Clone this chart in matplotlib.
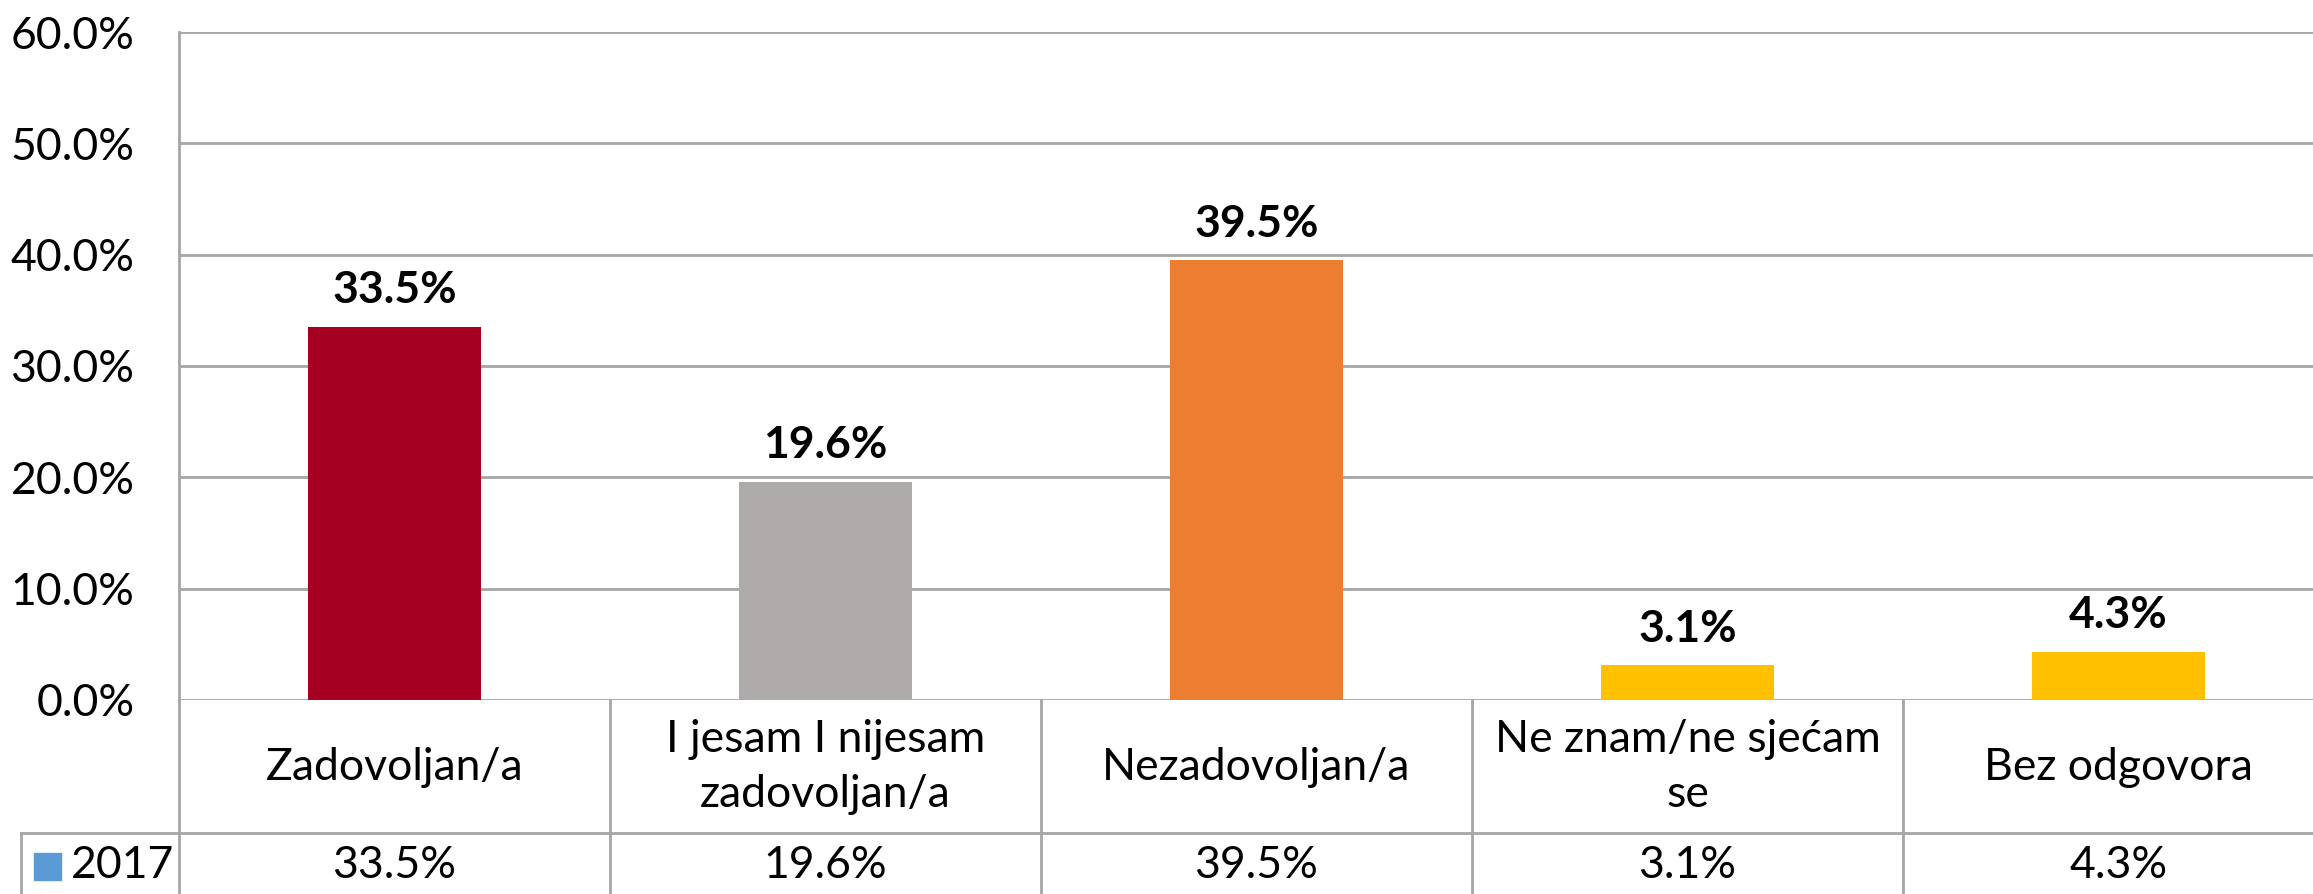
import matplotlib
matplotlib.use('Agg')
import matplotlib.pyplot as plt
import matplotlib.transforms as mtransforms
from matplotlib.lines import Line2D
from matplotlib.patches import Rectangle

plt.rcParams['font.family'] = ['Lato', 'DejaVu Sans']

# data
categories = ['Zadovoljan/a', 'I jesam I nijesam\nzadovoljan/a', 'Nezadovoljan/a',
              'Ne znam/ne sjećam\nse', 'Bez odgovora']
values = [33.5, 19.6, 39.5, 3.1, 4.3]
bar_colors = ['#A50021', '#AFABAB', '#ED7D31', '#FFC000', '#FFC000']
series_name = '2017'
yticks = [0, 10, 20, 30, 40, 50, 60]

W, H = 2313, 894
fig = plt.figure(figsize=(W / 100, H / 100), dpi=100)

# plot area in pixels: left 179, top 32, zero line 700, 5 columns of ~431 px
left, top, zero = 179, 32, 700
colw = 431
ax = fig.add_axes([left / W, (H - zero) / H, 5 * colw / W, (zero - top) / H])

fs = 32
grid_c = '#A6A6A6'
x = list(range(len(values)))
ax.bar(x, values, width=0.4, color=bar_colors, zorder=3)
ax.set_xlim(-0.5, 4.5)
ax.set_ylim(0, 60)
ax.set_yticks(yticks)
ax.set_yticklabels([f'{t:.1f}%' for t in yticks])
ax.tick_params(axis='y', length=0, pad=32, labelsize=fs)
ax.set_xticks([])
for t in yticks:
    ax.axhline(t, color=grid_c, lw=2, zorder=1)
for s in ['top', 'right', 'bottom']:
    ax.spines[s].set_visible(False)
ax.spines['left'].set_color(grid_c)
ax.spines['left'].set_linewidth(2)

for xi, v in zip(x, values):
    ax.annotate(f'{v:.1f}%', (xi, v), xytext=(0, 12), textcoords='offset points',
                ha='center', va='bottom', fontsize=fs, fontweight='bold')

# data table below the axes (x in data units, y in figure pixels)
trans = mtransforms.blended_transform_factory(ax.transData, fig.dpi_scale_trans)
def py(p):
    return (H - p) / 100

row1_bot, legend_left = 833, 21
for b in [-0.5, 0.5, 1.5, 2.5, 3.5, 4.5]:
    fig.add_artist(Line2D([b, b], [py(zero), py(H + 5)], transform=trans,
                          color=grid_c, lw=2))
fig.add_artist(Line2D([legend_left / W, 1], [py(row1_bot) * 100 / H] * 2,
                      transform=fig.transFigure, color=grid_c, lw=2))
fig.add_artist(Line2D([legend_left / W] * 2, [py(row1_bot) * 100 / H, 0],
                      transform=fig.transFigure, color=grid_c, lw=2))

for xi, cat, v in zip(x, categories, values):
    fig.text(xi, py(767), cat, transform=trans, ha='center', va='center',
             fontsize=fs, linespacing=1.4)
    fig.text(xi, py(866), f'{v:.1f}%', transform=trans, ha='center',
             va='center', fontsize=fs)

fig.add_artist(Rectangle((34 / W, (H - 880) / H), 27 / W, 27 / H,
                         transform=fig.transFigure, color='#5B9BD5'))
fig.text(71 / W, (H - 866) / H, series_name, ha='left', va='center', fontsize=fs)

fig.savefig('out.png', dpi=100, facecolor='white')
